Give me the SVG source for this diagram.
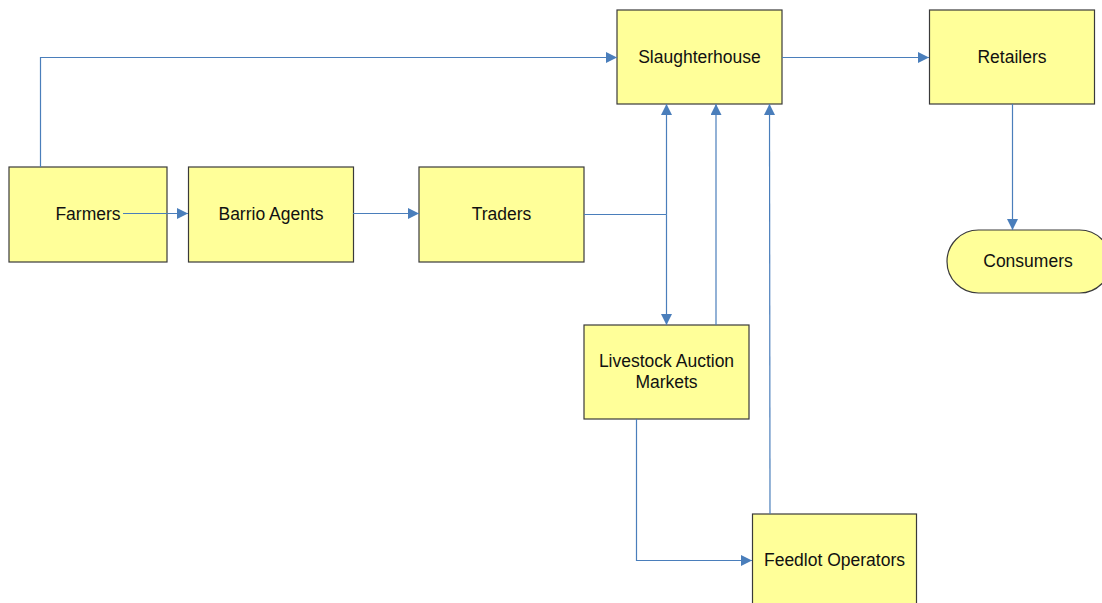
<svg xmlns="http://www.w3.org/2000/svg" width="1102" height="603" viewBox="0 0 1102 603">
<style>
.box{fill:#ffff99;stroke:#3a3a3a;stroke-width:1.2}
.lbl{font-family:"Liberation Sans",Arial,sans-serif;font-size:17.5px;fill:#111;text-anchor:middle}
.cn{fill:none;stroke:#4a7ebb;stroke-width:1.2}
</style>
<defs>
<marker id="ah" viewBox="0 0 10 10" refX="10" refY="5" markerWidth="11" markerHeight="11" markerUnits="userSpaceOnUse" orient="auto">
<path d="M0,0 L10,5 L0,10 Z" fill="#4a7ebb"/>
</marker>
</defs>
<rect width="1102" height="603" fill="#fff"/>
<g id="farmers"><rect class="box" x="9" y="167" width="158" height="95"/><text class="lbl" x="88" y="220">Farmers</text></g>
<g id="barrio-agents"><rect class="box" x="188.5" y="167" width="165" height="95"/><text class="lbl" x="271" y="220">Barrio Agents</text></g>
<g id="traders"><rect class="box" x="419" y="167" width="165" height="95"/><text class="lbl" x="501.5" y="220">Traders</text></g>
<g id="slaughterhouse"><rect class="box" x="617" y="10" width="165" height="94"/><text class="lbl" x="699.5" y="63">Slaughterhouse</text></g>
<g id="retailers"><rect class="box" x="929.5" y="10" width="165" height="94"/><text class="lbl" x="1012" y="63">Retailers</text></g>
<g id="consumers"><rect class="box" x="947" y="230" width="164" height="63" rx="31.5" ry="31.5"/><text class="lbl" x="1028" y="267">Consumers</text></g>
<g id="livestock-auction-markets"><rect class="box" x="584" y="325" width="165" height="94"/><text class="lbl" x="666.5" y="367">Livestock Auction</text><text class="lbl" x="666.5" y="388">Markets</text></g>
<g id="feedlot-operators"><rect class="box" x="752.5" y="514" width="164" height="94"/><text class="lbl" x="834.5" y="566">Feedlot Operators</text></g>
<g id="connectors">
<path class="cn" d="M40.5,167 V57.5 H617" marker-end="url(#ah)"/>
<path class="cn" d="M123,213.5 H188" marker-end="url(#ah)"/>
<path class="cn" d="M353,213.5 H419" marker-end="url(#ah)"/>
<path class="cn" d="M584,214.5 H666.5"/>
<path class="cn" d="M666.5,214.5 V104" marker-end="url(#ah)"/>
<path class="cn" d="M666.5,214.5 V325" marker-end="url(#ah)"/>
<path class="cn" d="M716,325 V104" marker-end="url(#ah)"/>
<path class="cn" d="M770,514 L769.5,104" marker-end="url(#ah)"/>
<path class="cn" d="M636.5,419 V560.5 H752" marker-end="url(#ah)"/>
<path class="cn" d="M782,57.5 H929" marker-end="url(#ah)"/>
<path class="cn" d="M1012.5,104 V230" marker-end="url(#ah)"/>
</g>
</svg>
